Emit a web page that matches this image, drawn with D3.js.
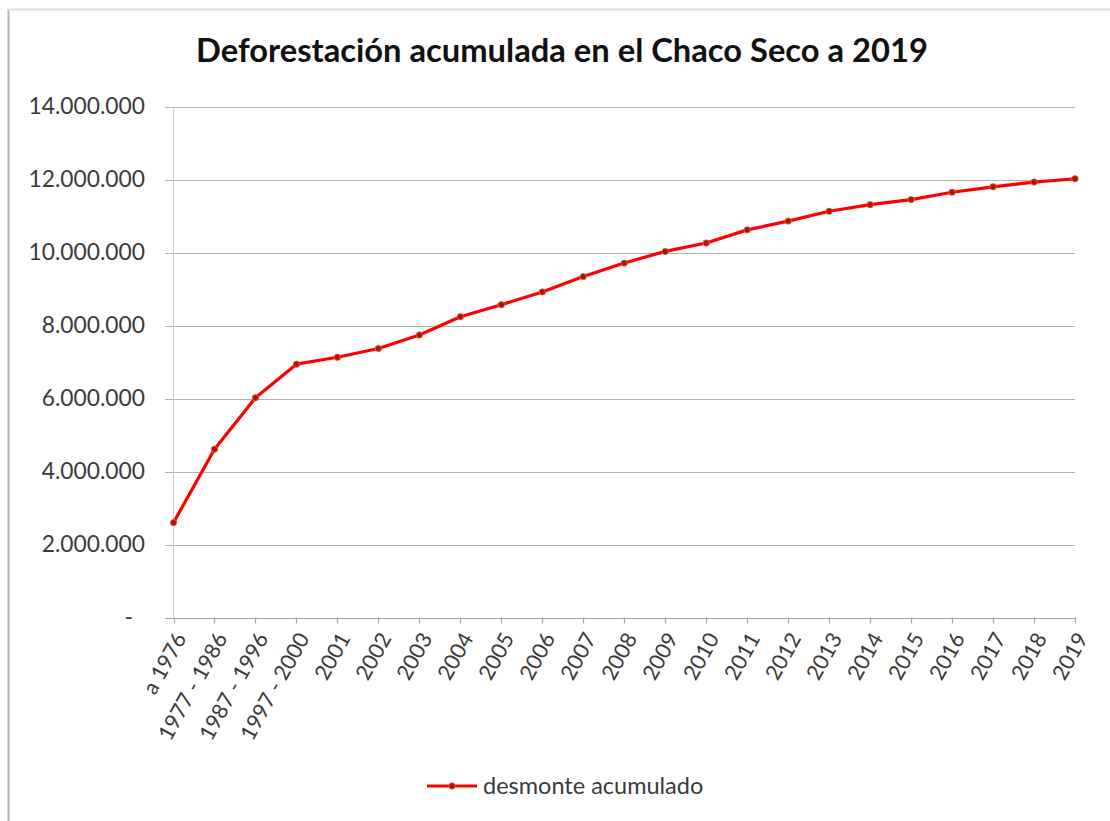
<!DOCTYPE html>
<html>
<head>
<meta charset="utf-8">
<script src="https://cdn.jsdelivr.net/npm/d3@7"></script>
<style>
  body { margin: 0; background: #fff; }
  svg { display: block; font-family: Lato, "Open Sans", sans-serif; }
</style>
</head>
<body>
<svg id="chart" width="1110" height="821"></svg>
<script>
// periods on the x axis
var periods = ["a 1976", "1977 - 1986", "1987 - 1996", "1997 - 2000",
    "2001", "2002", "2003", "2004", "2005", "2006", "2007", "2008", "2009",
    "2010", "2011", "2012", "2013", "2014", "2015", "2016", "2017", "2018", "2019"];
// accumulated clearing (ha)
var desmonte = [2600000, 4610000, 6020000, 6940000,
    7130000, 7370000, 7740000, 8240000, 8570000, 8920000, 9340000, 9710000, 10030000,
    10260000, 10620000, 10860000, 11130000, 11310000, 11450000, 11650000, 11800000, 11930000, 12020000];
var yTicks = [0, 2000000, 4000000, 6000000, 8000000, 10000000, 12000000, 14000000];
var chartTitle = "Deforestación acumulada en el Chaco Seco a 2019";
var seriesName = "desmonte acumulado";

var svg = d3.select("#chart");

//frame edges visible on the left and top
svg.append("line").attr("x1",8.5).attr("x2",8.5).attr("y1",9).attr("y2",821)
    .style("stroke","#b4b4b4").style("stroke-width",2);
svg.append("line").attr("x1",8).attr("x2",1110).attr("y1",9.5).attr("y2",9.5)
    .style("stroke","#dedede").style("stroke-width",2);

var x = d3.scalePoint().domain(periods).range([173.5, 1075]),
    y = d3.scaleLinear().domain([0, 14000000]).range([617.5, 106.5]);

var esFormat = d3.formatLocale({decimal: ",", thousands: ".", grouping: [3], currency: ["", ""]}).format(",.0f");

//gridlines + y labels
var yAxis = svg.append("g").attr("class","y-axis");
yAxis.selectAll("line.grid").data(yTicks.slice(1)).enter()
    .append("line")
    .attr("class","grid")
    .attr("x1",165).attr("x2",1075)
    .attr("y1",d => Math.round(y(d)) + 0.5).attr("y2",d => Math.round(y(d)) + 0.5)
    .style("stroke","#b3b3b3").style("stroke-width",1);
yAxis.selectAll("text").data(yTicks).enter()
    .append("text")
    .attr("x",d => d === 0 ? 133 : 145)
    .attr("y",d => y(d))
    .attr("dy","0.35em")
    .style("text-anchor","end")
    .style("font-size","22.8px")
    .style("fill","#3a3a3a")
    .text(d => d === 0 ? "-" : esFormat(d));

//vertical axis line
svg.append("line")
    .attr("x1",173.5).attr("x2",173.5).attr("y1",y(14000000)).attr("y2",y(0))
    .style("stroke","#cfcfcf").style("stroke-width",1);

//category axis
var xAxis = svg.append("g").attr("class","x-axis");
xAxis.append("line")
    .attr("x1",165).attr("x2",1075)
    .attr("y1",Math.round(y(0)) + 0.5).attr("y2",Math.round(y(0)) + 0.5)
    .style("stroke","#a6a6a6").style("stroke-width",1.2);
xAxis.selectAll("line.tick").data(periods).enter()
    .append("line")
    .attr("class","tick")
    .attr("x1",d => Math.round(x(d)) + 0.5).attr("x2",d => Math.round(x(d)) + 0.5)
    .attr("y1",y(0)).attr("y2",y(0) + 6)
    .style("stroke","#a6a6a6").style("stroke-width",1.2);
xAxis.selectAll("text").data(periods).enter()
    .append("text")
    .attr("transform",d => "translate(" + (x(d) + 7) + "," + (y(0) + 17) + ") rotate(-61)")
    .attr("dy","0.35em")
    .style("text-anchor","end")
    .style("font-size","21.5px")
    .style("fill","#3a3a3a")
    .text(d => d);

//series
var line = d3.line()
    .x((d,i) => x(periods[i]))
    .y(d => y(d));
svg.append("path")
    .datum(desmonte)
    .attr("d",line)
    .style("fill","none")
    .style("stroke","#ff0000")
    .style("stroke-width",3.2)
    .style("stroke-linejoin","round");
svg.selectAll("circle.pt").data(desmonte).enter()
    .append("circle")
    .attr("class","pt")
    .attr("cx",(d,i) => x(periods[i]))
    .attr("cy",d => y(d))
    .attr("r",3.2)
    .style("fill","#b01010")
    .style("stroke","#e8702a")
    .style("stroke-width",0.8);

//title
svg.append("text")
    .attr("x",562).attr("y",62)
    .style("text-anchor","middle")
    .style("font-size","32.7px")
    .style("font-weight","bold")
    .style("fill","#111")
    .text(chartTitle);

//legend
var legend = svg.append("g").attr("transform","translate(427,786)");
legend.append("line").attr("x1",0).attr("x2",50).attr("y1",0).attr("y2",0)
    .style("stroke","#ff0000").style("stroke-width",3.2);
legend.append("circle").attr("cx",25).attr("cy",0).attr("r",3.2)
    .style("fill","#b01010").style("stroke","#e8702a").style("stroke-width",0.8);
legend.append("text").attr("x",56).attr("y",0).attr("dy","0.35em")
    .style("font-size","23.5px").style("fill","#3a3a3a")
    .text(seriesName);
</script>
</body>
</html>
